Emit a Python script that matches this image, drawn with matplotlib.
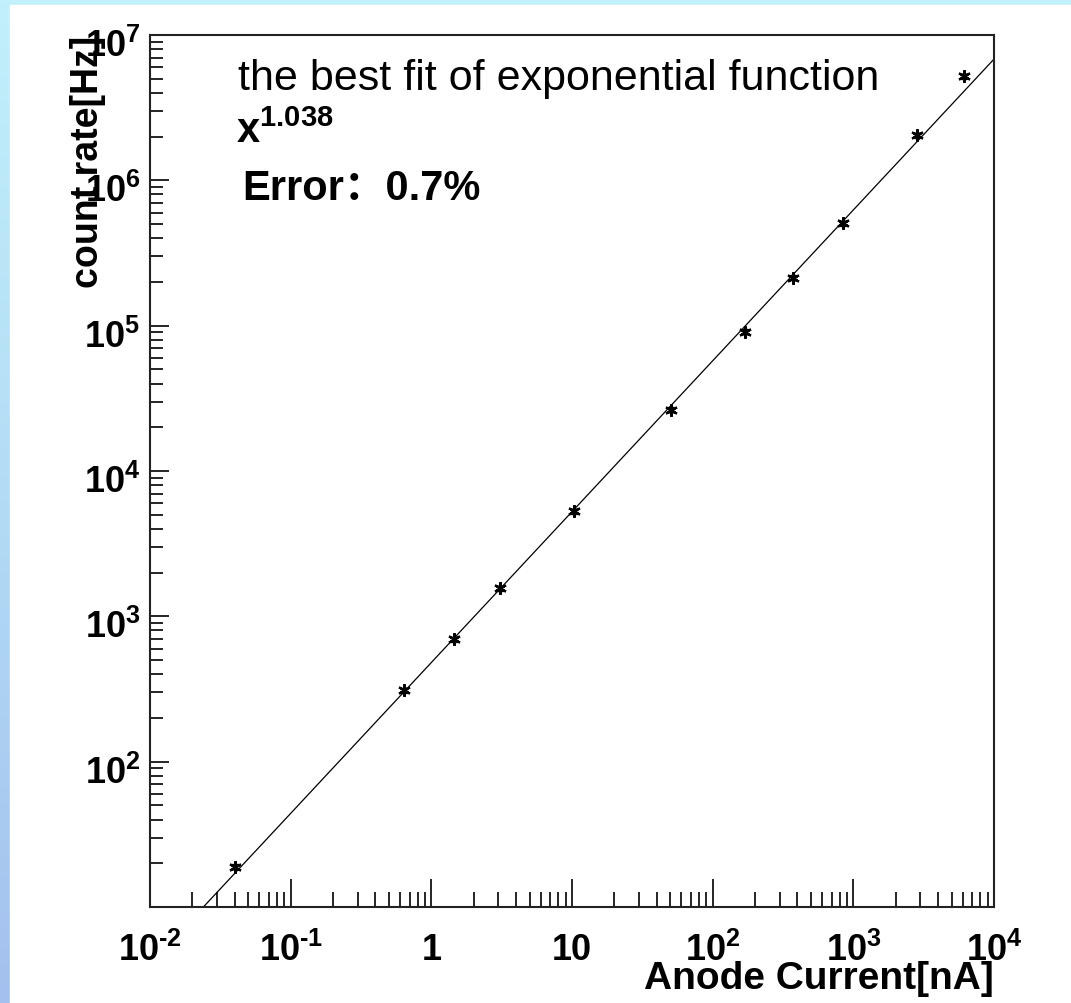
import numpy as np
import matplotlib
matplotlib.use("Agg")
import matplotlib.pyplot as plt
import matplotlib.transforms as mtrans
from matplotlib.ticker import LogLocator, FixedLocator, NullFormatter
from matplotlib.colors import LinearSegmentedColormap

plt.rcParams['font.family'] = ['Liberation Sans', 'Noto Sans CJK SC', 'DejaVu Sans']
plt.rcParams['mathtext.fontset'] = 'custom'
plt.rcParams['mathtext.rm'] = 'Liberation Sans:bold'
plt.rcParams['mathtext.bf'] = 'Liberation Sans:bold'
plt.rcParams['mathtext.it'] = 'Liberation Sans:bold'

# measured points (anode current [nA], count rate [Hz])
current = [0.040, 0.644, 1.46, 3.08, 10.3, 50.4, 169, 375, 849, 2844, 6120]
rate = [18.9, 309, 693, 1560, 5300, 26400, 91000, 214000, 505000, 2.04e6, 5.2e6]
# relative errors on the points
cur_err = [0.03] * 11
rate_err = [0.04] * 11

# power-law fit: rate = fit_a * current ** fit_b
fit_a = 481.0
fit_b = 1.038

xticks = [1e-2, 1e-1, 1, 10, 1e2, 1e3, 1e4]
xlabels = [r'$10^{\text{-}2}$', r'$10^{\text{-}1}$', '1', '10', r'$10^{2}$', r'$10^{3}$', r'$10^{4}$']
yticks = [1e2, 1e3, 1e4, 1e5, 1e6, 1e7]
ylabels = [r'$10^{2}$', r'$10^{3}$', r'$10^{4}$', r'$10^{5}$', r'$10^{6}$', r'$10^{7}$']

W, H = 1071, 1004
fig = plt.figure(figsize=(W / 100, H / 100), dpi=100)

# blue gradient background + white pad
bg = fig.add_axes([0, 0, 1, 1], zorder=-10)
cmap = LinearSegmentedColormap.from_list('bg', ['#c2f0fb', '#b2dcf5', '#a4c0ee'])
grad = np.linspace(0, 1, 256).reshape(-1, 1)
bg.imshow(grad, cmap=cmap, aspect='auto', extent=[0, 1, 0, 1], origin='upper')
bg.add_patch(plt.Rectangle((10 / W, 0), 1, 1 - 6 / H, color='white'))
bg.set_xlim(0, 1)
bg.set_ylim(0, 1)
bg.axis('off')

ax = fig.add_axes([150 / W, 96 / H, (994 - 150) / W, (908 - 36) / H])
ax.set_xscale('log')
ax.set_yscale('log')
ax.set_xlim(1e-2, 1e4)
ax.set_ylim(1e1, 1e7)

# fit line
xf = np.logspace(-2, 4, 200)
ax.plot(xf, fit_a * xf ** fit_b, color='black', lw=0.9)

cur = np.array(current)
rt = np.array(rate)
ax.errorbar(cur, rt, xerr=cur * np.array(cur_err), yerr=rt * np.array(rate_err),
            fmt='none', ecolor='black', lw=1, capsize=2.5)
ax.plot(cur, rt, ls='none', marker=(6, 2, 0), color='black', ms=9, mew=1.6)

for s in ax.spines.values():
    s.set_linewidth(1.5)
    s.set_color('#222222')

ax.xaxis.set_major_locator(FixedLocator(xticks))
ax.set_xticklabels(xlabels, fontweight='bold')
ax.yaxis.set_major_locator(FixedLocator(yticks))
ax.set_yticklabels(ylabels, fontweight='bold')
ax.xaxis.set_minor_locator(LogLocator(base=10, subs=np.arange(2, 10), numticks=20))
ax.yaxis.set_minor_locator(LogLocator(base=10, subs=np.arange(2, 10), numticks=20))
ax.xaxis.set_minor_formatter(NullFormatter())
ax.yaxis.set_minor_formatter(NullFormatter())

ax.tick_params(axis='x', which='major', direction='in', length=20, width=1.2, pad=18,
               labelsize=26, top=False)
ax.tick_params(axis='x', which='minor', direction='in', length=11, width=1.2, top=False)
ax.tick_params(axis='y', which='major', direction='in', length=14, width=1.2, pad=7,
               labelsize=26, right=False)
ax.tick_params(axis='y', which='minor', direction='in', length=9, width=1.2, right=False)

# y labels sit a little below their ticks
shift = mtrans.ScaledTranslation(0, -7 / 100, fig.dpi_scale_trans)
for lab in ax.get_yticklabels():
    lab.set_transform(lab.get_transform() + shift)

ax.set_xlabel('Anode Current[nA]', fontsize=28, fontweight='bold', loc='right', labelpad=-6)
ax.set_ylabel('count rate[Hz]', fontsize=27, fontweight='bold', loc='top', labelpad=-16)

fig.text(238 / W, 1 - 90 / H, 'the best fit of exponential function', fontsize=31,
         va='baseline', ha='left')
fig.text(236 / W, 1 - 143 / H, r'$\mathbf{x^{1.038}}$', fontsize=30, va='baseline', ha='left')
fig.text(242 / W, 1 - 200 / H, 'Error：0.7%', fontsize=30, fontweight='bold',
         va='baseline', ha='left')

fig.savefig('out.png', dpi=100)
